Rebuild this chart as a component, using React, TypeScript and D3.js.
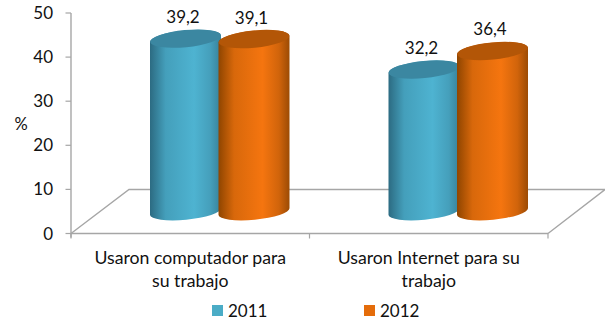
import React from "react";
import * as d3 from "d3";

const categories = ["Usaron computador para|su trabajo", "Usaron Internet para su|trabajo"];
const years = ["2011", "2012"];
const values2011 = [39.2, 32.2];
const values2012 = [39.1, 36.4];
const yTicks = [0, 10, 20, 30, 40, 50];
const FONT = "Lato, Carlito, Calibri, 'Open Sans', sans-serif";
const GRID = "#a6a6a6";
const TEXT = "#111111";

const W = 605, H = 322;
const axisY = d3.scaleLinear().domain([0, 50]).range([233.5, 13]);
const cylY = d3.scaleLinear().domain([0, 50]).range([211.5, -9]);
const xBand = d3.scaleBand().domain(categories).range([71, 548]);
const depthX = 58, depthY = 44;
const barW = 71, barStep = 68.5, barShift = 29.5;

const colors = [
  { id: "g2011", edgeL: "#2c6b82", mid: "#4eb3d1", edgeR: "#37819a", top: "#3b87a1", legend: "#4bacc6" },
  { id: "g2012", edgeL: "#8f4500", mid: "#f5750f", edgeR: "#9c4b04", top: "#b35607", legend: "#e46c0a" },
];

function Cylinder({ cx, value, c }: { cx: number; value: number; c: (typeof colors)[0] }) {
  const rx = barW / 2, ry = 8.2, rot = -5.5;
  const dy = rx * Math.tan((rot * Math.PI) / 180);
  const l = cx - rx, r = cx + rx;
  const yt = cylY(value), yb = cylY(0);
  const d = `M${l},${yt - dy} L${l},${yb - dy} A${rx},${ry} ${rot} 0 0 ${r},${yb + dy} L${r},${yt + dy} A${rx},${ry} ${rot} 0 0 ${l},${yt - dy} Z`;
  return (
    <g>
      <path d={d} fill={`url(#${c.id})`} />
      <ellipse cx={cx} cy={yt} rx={rx} ry={ry + 0.4} transform={`rotate(${rot} ${cx} ${yt})`} fill={c.top} />
    </g>
  );
}

export default function App() {
  const series = [values2011, values2012];
  return (
    <svg width={W} height={H} style={{ position: "absolute", left: 0, top: 0 }} fontFamily={FONT}>
      <defs>
        {colors.map((c) => (
          <linearGradient key={c.id} id={c.id} x1="0" x2="1" y1="0" y2="0">
            <stop offset="0" stopColor={c.edgeL} />
            <stop offset="0.22" stopColor={d3.interpolateRgb(c.edgeL, c.mid)(0.72)} />
            <stop offset="0.62" stopColor={c.mid} />
            <stop offset="0.85" stopColor={d3.interpolateRgb(c.edgeR, c.mid)(0.6)} />
            <stop offset="1" stopColor={c.edgeR} />
          </linearGradient>
        ))}
      </defs>

      {/* floor */}
      <path
        d={`M71,${axisY(0)} L${71 + depthX},${axisY(0) - depthY} H605 L548,${axisY(0)}`}
        fill="none"
        stroke={GRID}
        strokeWidth={1.4}
      />
      {/* y axis */}
      <line x1={71} x2={71} y1={axisY(50)} y2={axisY(0) + 4} stroke={GRID} strokeWidth={1.4} />
      <line x1={71} x2={548} y1={axisY(0)} y2={axisY(0)} stroke={GRID} strokeWidth={1.4} />
      {[...categories.map((c) => xBand(c)!), 548].map((x) => (
        <line key={x} x1={x} x2={x} y1={axisY(0)} y2={axisY(0) + 5} stroke={GRID} strokeWidth={1.2} />
      ))}
      {yTicks.map((t) => (
        <g key={t}>
          <line x1={65.5} x2={71} y1={axisY(t)} y2={axisY(t)} stroke={GRID} strokeWidth={1.2} />
          <text x={53} y={axisY(t) + 6} textAnchor="end" fontSize={17} fill={TEXT}>{t}</text>
        </g>
      ))}
      <text x={21} y={130} textAnchor="middle" fontSize={16.5} fill={TEXT}>%</text>

      {/* cylinders */}
      {categories.map((cat, i) => {
        const center = xBand(cat)! + xBand.bandwidth() / 2 + barShift;
        return (
          <g key={cat}>
            {series.map((vals, s) => {
              const cx = center + (s - 0.5) * barStep;
              return <Cylinder key={s} cx={cx} value={vals[i]} c={colors[s]} />;
            })}
            {series.map((vals, s) => {
              const cx = center + (s - 0.5) * barStep;
              return (
                <text key={s} x={cx - 2.5} y={cylY(vals[i]) - 15.5} textAnchor="middle" fontSize={17} fill={TEXT}>
                  {vals[i].toFixed(1).replace(".", ",")}
                </text>
              );
            })}
          </g>
        );
      })}

      {/* category labels */}
      {categories.map((cat) => {
        const cx = xBand(cat)! + xBand.bandwidth() / 2;
        return cat.split("|").map((line, k) => (
          <text key={line} x={cx} y={263.5 + k * 23.5} textAnchor="middle" fontSize={17.7} fill={TEXT}>{line}</text>
        ));
      })}

      {/* legend */}
      {years.map((y, i) => (
        <g key={y}>
          <rect x={212 + i * 152} y={305} width={11} height={11} fill={colors[i].legend} />
          <text x={228 + i * 152} y={317} fontSize={17} fill={TEXT}>{y}</text>
        </g>
      ))}
    </svg>
  );
}
